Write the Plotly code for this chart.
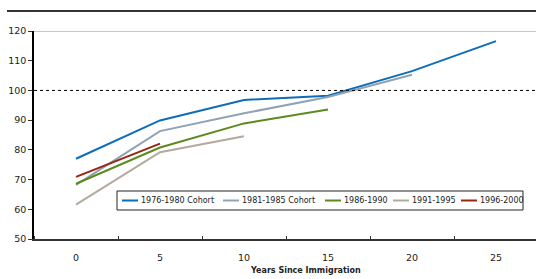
import plotly.graph_objects as go

years = [0, 5, 10, 15, 20, 25]
series_names = ["1976-1980 Cohort", "1981-1985 Cohort", "1986-1990", "1991-1995", "1996-2000"]
c7680 = [77.0, 89.9, 96.8, 98.2, 106.5, 116.6]
c8185 = [68.2, 86.3, 92.3, 97.8, 105.3]
c8690 = [68.6, 80.8, 88.9, 93.6]
c9195 = [61.6, 79.2, 84.6]
c9600 = [70.9, 82.1]
colors = ["#0f6db8", "#8fa3b4", "#5c8a1e", "#b2aa9c", "#9a2412"]
y_ticks = [50, 60, 70, 80, 90, 100, 110, 120]

W, H = 536, 279
L, R, T, B = 34, 0, 31, 40
PW, PH = W - L - R, H - T - B


def px(x):
    return (x - L) / PW


def py(y):
    return (H - B - y) / PH


fig = go.Figure()
for name, vals, col in zip(series_names, [c7680, c8185, c8690, c9195, c9600], colors):
    fig.add_trace(go.Scatter(x=years[:len(vals)], y=vals, mode="lines", name=name,
                             line=dict(color=col, width=2), showlegend=False))

# reference line at 100 and top border at 120
fig.add_shape(type="line", xref="paper", yref="y", x0=0, x1=1, y0=100, y1=100,
              line=dict(color="black", width=1, dash="dot"))
fig.add_shape(type="line", xref="paper", yref="y", x0=0, x1=1, y0=120, y1=120,
              line=dict(color="#c8c8c8", width=2))
# title rule line
fig.add_shape(type="line", xref="paper", yref="paper", x0=px(7), x1=1,
              y0=py(11), y1=py(11), line=dict(color="#333333", width=2))

# legend box (single row, like the original)
fig.add_shape(type="rect", xref="paper", yref="paper", x0=px(117), x1=px(523),
              y0=py(210), y1=py(191), line=dict(color="#222", width=1), fillcolor="white")
sample_x = [122, 223, 325, 393, 461]
ly = py(200.5)
for name, col, sx in zip(series_names, colors, sample_x):
    fig.add_shape(type="line", xref="paper", yref="paper", x0=px(sx), x1=px(sx + 16),
                  y0=ly, y1=ly, line=dict(color=col, width=2))
    fig.add_annotation(text=name, xref="paper", yref="paper", x=px(sx + 17), y=ly,
                       showarrow=False, xanchor="left", yanchor="middle",
                       font=dict(family="DejaVu Sans", size=8, color="#222"))

fig.add_annotation(text="<b>Years Since Immigration</b>", xref="paper", yref="paper",
                   x=px(305), y=py(270),
                   showarrow=False, font=dict(family="DejaVu Sans", size=8, color="#222"),
                   xanchor="center", yanchor="middle")

fig.update_layout(
    width=W, height=H,
    margin=dict(l=L, r=R, t=T, b=B, pad=0),
    paper_bgcolor="white", plot_bgcolor="white",
    font=dict(family="DejaVu Sans", size=9.5, color="#222"),
    showlegend=False,
    xaxis=dict(range=[-2.5, -2.5 + PW / 16.8], tickmode="array", tickvals=years,
               ticktext=[str(v) for v in years], ticks="", showgrid=False, zeroline=False,
               showline=True, linecolor="#333", linewidth=1.5, ticklabelstandoff=9,
               minor=dict(tickmode="array", tickvals=[-2.5, 2.5, 7.5, 12.5, 17.5, 22.5, 27.5],
                          ticks="inside", ticklen=3, tickcolor="#333", showgrid=False)),
    yaxis=dict(range=[50, 120], tickmode="array", tickvals=y_ticks, ticks="outside",
               ticklen=4, tickcolor="#333", showgrid=False, zeroline=False,
               showline=True, linecolor="black", linewidth=1.5),
)

fig.write_html("out.html", config={"displayModeBar": False},
               post_script="document.body.style.margin='0';")
